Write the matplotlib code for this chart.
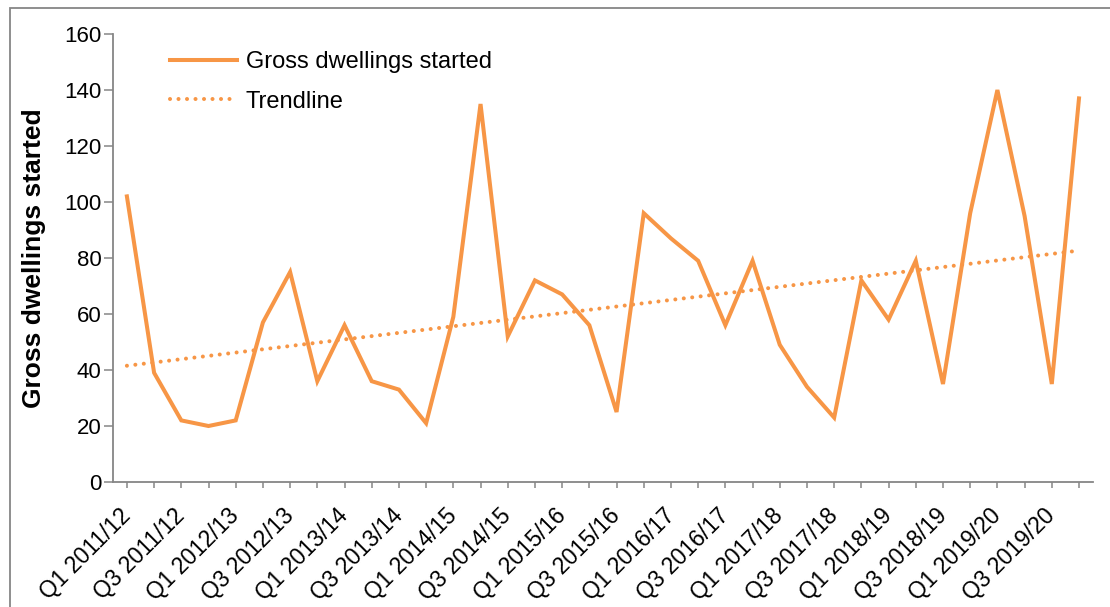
import matplotlib
matplotlib.use("Agg")
import matplotlib.pyplot as plt
import matplotlib.transforms as mtransforms
from matplotlib.patches import Rectangle
import numpy as np

plt.rcParams['font.family'] = ['Liberation Sans', 'DejaVu Sans']

# quarterly gross dwellings started, Q1 2011/12 .. Q4 2019/20
years = ["2011/12", "2012/13", "2013/14", "2014/15", "2015/16",
         "2016/17", "2017/18", "2018/19", "2019/20"]
quarters = [f"Q{q} {y}" for y in years for q in range(1, 5)]
started = [102, 39, 22, 20, 22, 57, 75, 36, 56, 36, 33, 21,
           59, 135, 52, 72, 67, 56, 25, 96, 87, 79, 56, 79,
           49, 34, 23, 72, 58, 79, 35, 96, 140, 95, 35, 137]

orange = "#F79646"
grey = "#868686"

fig = plt.figure(figsize=(11.1, 6.07), dpi=100)
ax = fig.add_axes([113.3 / 1110, 1 - 482 / 607, 979.3 / 1110, 448 / 607])

# outer chart frame (Excel chart area border)
fig.patches.append(Rectangle((10 / 1110, -0.1), 1.2, 1 - 7.5 / 607 + 0.1,
                             transform=fig.transFigure, fill=False,
                             edgecolor=grey, linewidth=1.3))

x = np.arange(len(started))
ax.plot(x, started, color=orange, linewidth=2.9, solid_joinstyle="miter",
        label="Gross dwellings started")

# linear trendline
coef = np.polyfit(x, started, 1)
ax.plot(x, np.polyval(coef, x), color=orange, linewidth=2.9,
        linestyle=(0, (0.01, 2.1)), dash_capstyle="round", label="Trendline")

ax.set_xlim(-0.5, len(started) - 0.5)
ax.set_ylim(0, 160)
ax.set_yticks(range(0, 161, 20))
ax.set_xticks(x)
ax.set_xticklabels([q if i % 2 == 0 else "" for i, q in enumerate(quarters)],
                   rotation=45, ha="right", va="top", rotation_mode="anchor",
                   fontsize=16.5)
ax.tick_params(axis="x", length=4.5, width=1.1, color=grey, pad=11.5)
ax.tick_params(axis="y", length=6.5, width=1.1, color=grey, labelsize=16, pad=2)

# excel puts the rotated labels a little left of the tick
shift = mtransforms.ScaledTranslation(-8 / 100, 0, fig.dpi_scale_trans)
for lbl in ax.get_xticklabels():
    lbl.set_transform(lbl.get_transform() + shift)

for side in ["top", "right"]:
    ax.spines[side].set_visible(False)
for side in ["left", "bottom"]:
    ax.spines[side].set_color(grey)
    ax.spines[side].set_linewidth(1.3)

ax.set_ylabel("Gross dwellings started", fontsize=19, fontweight="bold", labelpad=13)

ax.legend(loc="upper left", bbox_to_anchor=(0.058, 0.962), frameon=False,
          fontsize=17, handlelength=2.85, handletextpad=0.35,
          labelspacing=0.75, borderpad=0, borderaxespad=0)

fig.savefig("out.png", dpi=100)
